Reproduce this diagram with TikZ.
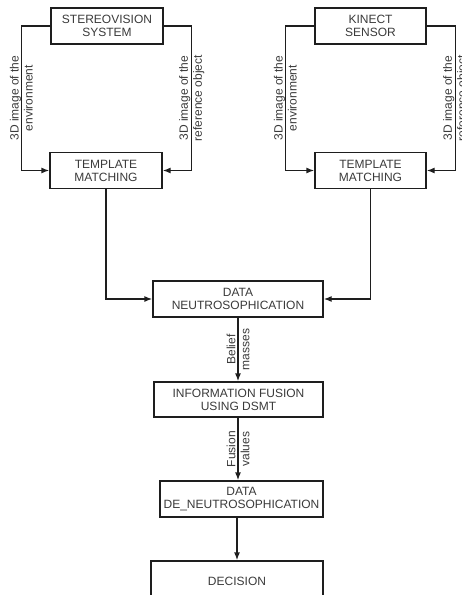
\documentclass[tikz,border=0pt]{standalone}
\usepackage{fontspec}
\setmainfont{Liberation Sans}
\usepackage{xcolor}
\usetikzlibrary{positioning,arrows.meta,calc}
\definecolor{boxtext}{HTML}{3A3A3A}
\definecolor{boxline}{HTML}{1E1E1E}

\begin{document}
\begin{tikzpicture}[
  x=1pt,y=-1pt,
  every node/.style={font=\fontsize{12}{13}\selectfont,align=center,text=boxtext},
  blockbox/.style={rectangle,draw=boxline,line width=1.3pt,
                   minimum height=36pt,inner sep=2pt},
  lbl/.style ={rotate=90,inner sep=0pt,font=\fontsize{12}{14}\selectfont},
  arr/.style ={-{Latex[length=8pt,width=6pt]},line width=1.3pt,boxline},
]
\useasboundingbox (0,0) rectangle (462,595);
\clip (0,0) rectangle (462,595);

% sources
\node[blockbox,minimum width=112pt] (stereo) at (107,26) {STEREOVISION\\SYSTEM};
\node[blockbox,minimum width=111pt] (kinect) at (370.5,26) {KINECT\\SENSOR};

% template matching
\node[blockbox,minimum width=112pt] (tm1) at (106,170.5) {TEMPLATE\\MATCHING};
\node[blockbox,minimum width=111pt] (tm2) at (370.5,170.5) {TEMPLATE\\MATCHING};

% processing chain
\node[blockbox,minimum width=170pt] (neutro) at (238,299) {DATA\\NEUTROSOPHICATION};
\node[blockbox,minimum width=169pt,minimum height=35pt] (fusion) at (238.5,399.5) {INFORMATION FUSION\\USING DSMT};
\node[blockbox,minimum width=163pt] (deneutro) at (241.5,499) {DATA\\DE\_NEUTROSOPHICATION};
\node[blockbox,minimum width=172pt,minimum height=40pt] (decision) at (237,581) {DECISION};

\draw[arr] (stereo.west) -- ++(-29,0) |- node[lbl,pos=0.25] {3D image of the\\environment} (tm1.west);
\draw[arr] (stereo.east) -- ++(28,0) |- node[lbl,pos=0.25] {3D image of the\\reference object} (tm1.east);
\draw[arr] (kinect.west) -- ++(-29,0) |- node[lbl,pos=0.25] {3D image of the\\environment} (tm2.west);
\draw[arr] (kinect.east) -- ++(29,0) |- node[lbl,pos=0.25] {3D image of the\\reference object} (tm2.east);

\draw[arr] (tm1.south) |- (neutro.west);
\draw[arr] (tm2.south) |- (neutro.east);

\draw[arr] (neutro.south) -- node[lbl] {Belief\\masses} (neutro.south |- fusion.north);
\draw[arr] (fusion.south -| neutro.south) -- node[lbl] {Fusion\\values} (neutro.south |- deneutro.north);
\draw[arr] (deneutro.south -| decision.north) -- (decision.north);
\end{tikzpicture}
\end{document}
